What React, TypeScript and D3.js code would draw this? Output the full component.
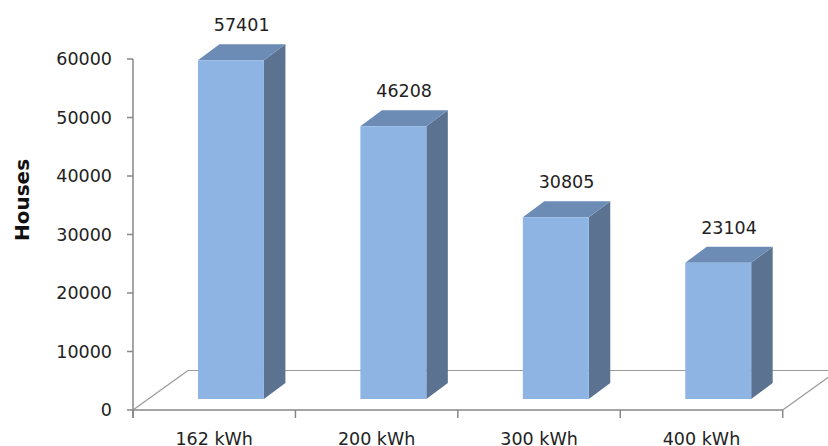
import React from "react";
import * as d3 from "d3";

const categories = ["162 kWh", "200 kWh", "300 kWh", "400 kWh"];
const values = [57401, 46208, 30805, 23104];
const yTicks = [0, 10000, 20000, 30000, 40000, 50000, 60000];
const yTitle = "Houses";

const W = 828;
const H = 446;

export default function App() {
  const x = d3.scaleBand<string>().domain(categories).range([133, 782.7]).padding(0);
  const bw = x.bandwidth();
  const yAxis = d3.scaleLinear().domain([0, 60000]).range([410, 59]);
  const yBar = d3.scaleLinear().domain([0, 60000]).range([399, 45]);
  const floorDx = 55, floorDy = -39.5;
  const barDx = 21.5, barDy = -16;
  const font = "DejaVu Sans, sans-serif";
  const axisColor = "#878787";
  const x0 = x.range()[0];
  const x1 = x.range()[1];
  const y0 = yAxis(0);
  const boundaries = [...categories.map((c) => x(c) as number), x1];

  return (
    <svg width={W} height={H} style={{ position: "absolute", left: 0, top: 0, display: "block", background: "#fff" }}>
      {/* floor */}
      <g stroke="#9a9a9a" strokeWidth={1.2} fill="none">
        <line x1={x0} y1={y0} x2={x0 + floorDx} y2={y0 + floorDy} />
        <line x1={x0 + floorDx} y1={y0 + floorDy} x2={x1 + floorDx} y2={y0 + floorDy} />
        <line x1={x1} y1={y0} x2={x1 + floorDx} y2={y0 + floorDy} />
      </g>
      {/* bars */}
      {categories.map((c, i) => {
        const left = (x(c) as number) + bw * 0.4;
        const right = left + bw * 0.406;
        const top = yBar(values[i]);
        const bottom = yBar(0);
        const front = `M${left},${top}L${right},${top}L${right},${bottom}L${left},${bottom}Z`;
        const side = `M${right},${top}L${right + barDx},${top + barDy}L${right + barDx},${bottom + barDy}L${right},${bottom}Z`;
        const topFace = `M${left},${top}L${left + barDx},${top + barDy}L${right + barDx},${top + barDy}L${right},${top}Z`;
        return (
          <g key={c}>
            <path d={side} fill="#5b7391" />
            <path d={topFace} fill="#6c8cb6" />
            <path d={front} fill="#8db4e3" />
            <text
              x={(left + right + barDx) / 2}
              y={top + barDy - 19}
              textAnchor="middle"
              dominantBaseline="central"
              fontFamily={font}
              fontSize={17.5}
              fill="#222"
            >
              {values[i]}
            </text>
          </g>
        );
      })}
      {/* y axis */}
      <g stroke={axisColor} strokeWidth={1.5}>
        <line x1={x0} y1={yAxis(60000)} x2={x0} y2={y0 + 8} />
        {yTicks.map((t) => (
          <line key={t} x1={x0 - 6} y1={yAxis(t)} x2={x0} y2={yAxis(t)} />
        ))}
        <line x1={x0} y1={y0} x2={x1} y2={y0} />
        {boundaries.map((b, i) => (
          <line key={i} x1={b} y1={y0} x2={b} y2={y0 + 8} />
        ))}
      </g>
      {yTicks.map((t) => (
        <text
          key={t}
          x={112}
          y={yAxis(t)}
          textAnchor="end"
          dominantBaseline="central"
          fontFamily={font}
          fontSize={17.5}
          fill="#222"
        >
          {t}
        </text>
      ))}
      {categories.map((c) => (
        <text
          key={c}
          x={(x(c) as number) + bw / 2}
          y={438.5}
          textAnchor="middle"
          dominantBaseline="central"
          fontFamily={font}
          fontSize={17.5}
          fill="#222"
        >
          {c}
        </text>
      ))}
      <text
        transform={`translate(22,200) rotate(-90)`}
        textAnchor="middle"
        dominantBaseline="central"
        fontFamily={font}
        fontWeight="bold"
        fontSize={20}
        fill="#111"
      >
        {yTitle}
      </text>
    </svg>
  );
}
